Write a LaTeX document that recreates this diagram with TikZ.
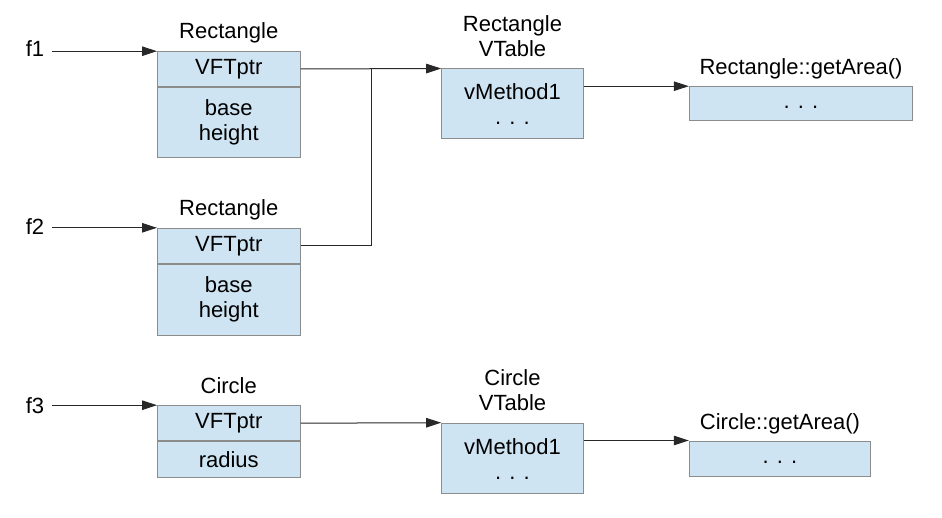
\documentclass[tikz,border=0pt]{standalone}
\usepackage{fontspec}
\setmainfont{Liberation Sans}
\usetikzlibrary{arrows.meta}
\definecolor{cellfill}{RGB}{207,228,243}
\definecolor{cellborder}{RGB}{140,140,140}
\definecolor{linecol}{RGB}{40,40,40}
\tikzset{
  txt/.style={font=\fontsize{22}{25}\selectfont},
  cell/.style={txt, draw=cellborder, fill=cellfill, line width=1pt, inner sep=0pt, align=center},
  lbl/.style={txt, anchor=base, inner sep=0pt, align=center},
  flabel/.style={txt, anchor=base, inner sep=0pt, inner xsep=8pt},
  conn/.style={draw=linecol, line width=1pt},
  arr/.style={conn, -{Triangle[length=15pt,width=9.5pt]}},
}
\begin{document}
\begin{tikzpicture}[x=1pt,y=-1pt]
\useasboundingbox (0,0) rectangle (942,518);

% Rectangle 1
\node[lbl] (r1t) at (228.75,38.3) {Rectangle};
\node[cell, minimum width=142.5pt, minimum height=34.6pt] (r1v) at (228.75,69) {VFTptr};
\node[cell, minimum width=142.5pt, minimum height=70.7pt, anchor=north] (r1b) at (r1v.south) {base\\height};

% Rectangle 2
\node[lbl] (r2t) at (228.75,216) {Rectangle};
\node[cell, minimum width=142.5pt, minimum height=35pt] (r2v) at (228.75,245.8) {VFTptr};
\node[cell, minimum width=142.5pt, minimum height=71pt, anchor=north] (r2b) at (r2v.south) {base\\height};

% Circle
\node[lbl] (ct) at (228.75,393.3) {Circle};
\node[cell, minimum width=142.5pt, minimum height=35pt] (cv) at (228.75,423.2) {VFTptr};
\node[cell, minimum width=142.5pt, minimum height=35.6pt, anchor=north] (cb) at (cv.south) {radius};

% f labels
\node[flabel] (f1) at (35,57) {f1};
\node[flabel] (f2) at (35,235) {f2};
\node[flabel] (f3) at (35,413) {f3};

% VTables
\node[lbl] (vt1t) at (512.5,56.7) {Rectangle\\VTable};
\node[cell, minimum width=141.6pt, minimum height=70pt] (vt1) at (512.5,104) {vMethod1\\. . .};
\node[lbl] (vt2t) at (512.5,410.7) {Circle\\VTable};
\node[cell, minimum width=141.6pt, minimum height=70.7pt] (vt2) at (512.5,458.55) {vMethod1\\. . .};

% getArea boxes
\node[lbl] (ga1t) at (801,75) {Rectangle::getArea()};
\node[cell, minimum width=223.4pt, minimum height=34.3pt] (ga1) at (801,103.85) {\strut. . .};
\node[lbl] (ga2t) at (780,429.3) {Circle::getArea()};
\node[cell, minimum width=181.4pt, minimum height=35pt] (ga2) at (780,458.5) {\strut. . .};

% connectors
\coordinate (j) at (371,69);
\draw[arr] (f1.east |- r1v.north west) -- (r1v.north west);
\draw[arr] (f2.east |- r2v.north west) -- (r2v.north west);
\draw[arr] (f3.east |- cv.north west) -- (cv.north west);
\draw[arr] (r1v.east) -- (vt1.north west);
\draw[conn] (r2v.east) -| (j);
\draw[arr] (cv.east) -- (vt2.north west);
\draw[arr] (vt1.east |- ga1.north west) -- (ga1.north west);
\draw[arr] (vt2.east |- ga2.north west) -- (ga2.north west);
\end{tikzpicture}
\end{document}
